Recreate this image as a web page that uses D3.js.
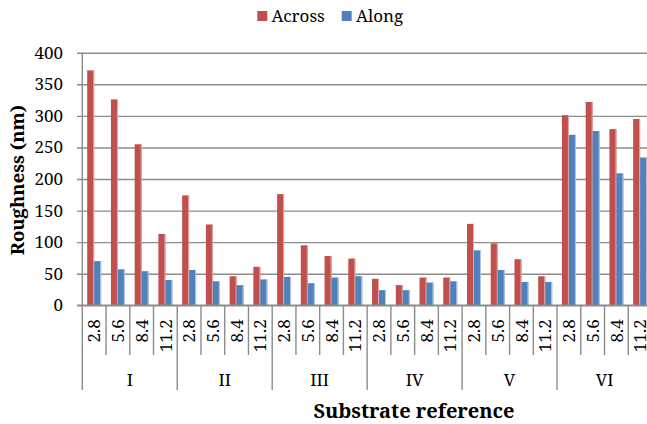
<!DOCTYPE html>
<html>
<head>
<meta charset="utf-8">
<script src="https://cdn.jsdelivr.net/npm/d3@7"></script>
<style>
  html, body { margin: 0; padding: 0; background: #fff; }
  svg { display: block; }
</style>
</head>
<body>
<svg id="chart" width="647" height="424"></svg>
<script>
const groups = ["I", "II", "III", "IV", "V", "VI"];
const speeds = ["2.8", "5.6", "8.4", "11.2"];
const seriesNames = ["Across", "Along"];
const seriesColors = ["#C0504D", "#4F81BD"];
const across = [372, 326, 255, 113, 174, 128, 46, 61, 176, 95, 78, 74, 42, 32, 44, 44, 129, 98, 73, 46, 301, 322, 279, 295];
const along = [70, 57, 54, 40, 56, 38, 32, 41, 45, 35, 44, 46, 24, 24, 36, 38, 87, 56, 37, 37, 270, 276, 209, 234];
const yTicks = [0, 50, 100, 150, 200, 250, 300, 350, 400];

(function () {
const FONT = "Noto Serif, Liberation Serif, serif";
const svg = d3.select("#chart");

const pLeft = 82.3, pRight = 652, pTop = 52.7, pBottom = 305.3;
const keys = [];
groups.forEach(g => speeds.forEach(s => keys.push(g + "|" + s)));
const rows = keys.map((k, i) => ({ key: k, values: [across[i], along[i]] }));

const x = d3.scaleBand().domain(keys).range([pLeft, pRight]).paddingInner(0).paddingOuter(0);
const xs = d3.scaleBand().domain(seriesNames).range([0, x.bandwidth()]).paddingInner(0).paddingOuter(0.7);
const y = d3.scaleLinear().domain([0, 400]).range([pBottom, pTop]);

// gridlines + y labels
const yAxis = d3.axisLeft(y).tickValues(yTicks).tickSizeInner(pRight - 77).tickSizeOuter(0).tickPadding(14);
const gy = svg.append("g").attr("transform", `translate(${pRight},0)`).call(yAxis)
  .attr("font-family", FONT).attr("font-size", 17);
gy.select(".domain").remove();
gy.selectAll(".tick line").attr("stroke", "#8c8c8c").attr("stroke-width", 1.4);
gy.selectAll(".tick text").attr("font-size", 17).attr("font-family", FONT).attr("fill", "#000");

// bars
const gBars = svg.append("g");
rows.forEach(r => {
  r.values.forEach((v, j) => {
    const bx = x(r.key) + xs(seriesNames[j]);
    gBars.append("rect")
      .attr("x", bx).attr("y", y(v))
      .attr("width", xs.bandwidth()).attr("height", y(0) - y(v))
      .attr("fill", seriesColors[j]);
    gBars.append("line")
      .attr("x1", bx + xs.bandwidth() - 0.5).attr("x2", bx + xs.bandwidth() - 0.5)
      .attr("y1", y(v)).attr("y2", y(0))
      .attr("stroke", j === 0 ? "#e6a9a7" : "#b5cbe8").attr("stroke-width", 1);
  });
});

// axis lines
svg.append("line").attr("x1", pLeft).attr("x2", pLeft).attr("y1", pTop).attr("y2", pBottom)
  .attr("stroke", "#8c8c8c").attr("stroke-width", 1.4);
svg.append("line").attr("x1", 77).attr("x2", pRight).attr("y1", y(0)).attr("y2", y(0))
  .attr("stroke", "#8c8c8c").attr("stroke-width", 1.4);

// x axis: speed labels
const xAxis = d3.axisBottom(x).tickSize(0).tickFormat(k => k.split("|")[1]);
const gx = svg.append("g").attr("transform", `translate(0,${pBottom})`).call(xAxis)
  .attr("font-family", FONT).attr("font-size", 17);
gx.select(".domain").remove();
gx.selectAll(".tick text")
  .attr("font-size", 17).attr("font-family", FONT).attr("fill", "#000")
  .attr("text-anchor", "end")
  .attr("transform", "translate(0,14) rotate(-90)")
  .attr("x", 0).attr("y", 0).attr("dy", "0.36em");

// separators
const gSep = svg.append("g").attr("stroke", "#8c8c8c").attr("stroke-width", 1.4);
keys.forEach((k, i) => {
  const xx = x(k);
  const isGroup = i % 4 === 0;
  gSep.append("line").attr("x1", xx).attr("x2", xx).attr("y1", pBottom).attr("y2", isGroup ? 390 : 355);
});
gSep.append("line").attr("x1", pRight).attr("x2", pRight).attr("y1", pBottom).attr("y2", 390);

// group labels
groups.forEach((g) => {
  const x0 = x(g + "|" + speeds[0]);
  const x1 = x(g + "|" + speeds[speeds.length - 1]) + x.bandwidth();
  svg.append("text").attr("x", (x0 + x1) / 2).attr("y", 386)
    .attr("text-anchor", "middle").attr("font-size", 17).attr("font-family", FONT).text(g);
});

// axis titles
svg.append("text").attr("x", 414).attr("y", 418).attr("text-anchor", "middle")
  .attr("font-size", 20).attr("font-weight", "bold").attr("font-family", FONT).text("Substrate reference");
svg.append("text").attr("transform", "translate(24,180) rotate(-90)").attr("text-anchor", "middle")
  .attr("font-size", 18.5).attr("font-weight", "bold").attr("font-family", FONT).text("Roughness (nm)");

// legend
const legend = [{ name: seriesNames[0], color: seriesColors[0], x: 257.3 }, { name: seriesNames[1], color: seriesColors[1], x: 341.7 }];
legend.forEach(l => {
  svg.append("rect").attr("x", l.x).attr("y", 11).attr("width", 10).attr("height", 10).attr("fill", l.color);
  svg.append("text").attr("x", l.x + 14.3).attr("y", 21.5).attr("font-size", 17).attr("font-family", FONT).text(l.name);
});
})();
</script>
</body>
</html>
